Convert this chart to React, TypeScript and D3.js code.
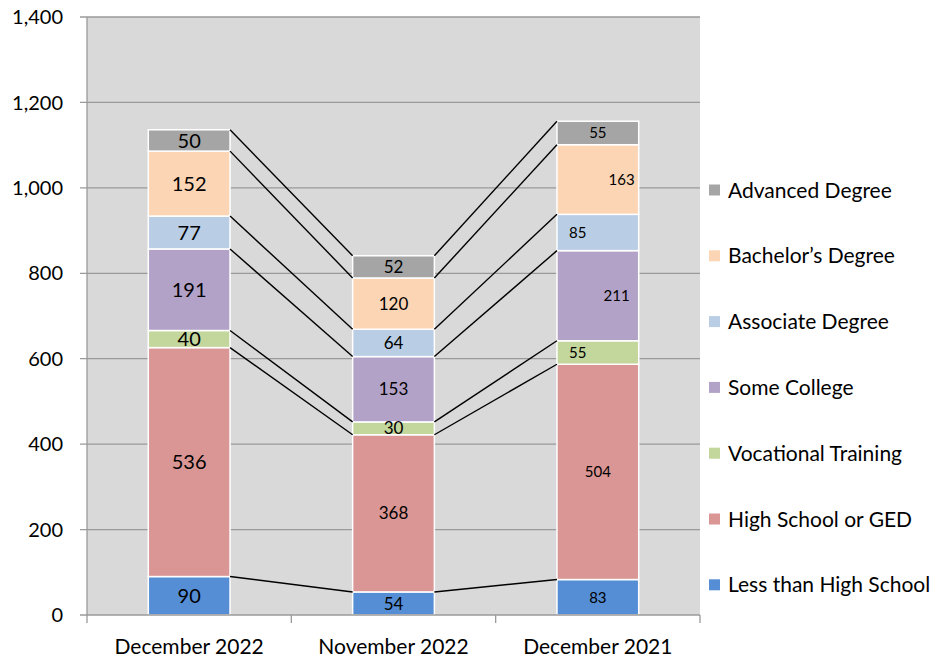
import React, { useRef, useEffect } from "react";
import * as d3 from "d3";

// categories along the x axis
const periods = ["December 2022", "November 2022", "December 2021"];

// series, bottom of the stack first
const levels = [
  "Less than High School",
  "High School or GED",
  "Vocational Training",
  "Some College",
  "Associate Degree",
  "Bachelor\u2019s Degree",
  "Advanced Degree",
];

const lessThanHS = [90, 54, 83];
const highSchool = [536, 368, 504];
const vocational = [40, 30, 55];
const someCollege = [191, 153, 211];
const associate = [77, 64, 85];
const bachelors = [152, 120, 163];
const advanced = [50, 52, 55];

const yTicks = [0, 200, 400, 600, 800, 1000, 1200, 1400];

const colors = [
  "#558ed5",
  "#d99694",
  "#c3d69b",
  "#b3a2c7",
  "#b9cde5",
  "#fcd5b5",
  "#a5a5a5",
];

// label look per period (the last bar in the original has scattered labels)
const labelSize = [20, 17, 15];
const labelAnchor: string[][] = [
  ["middle", "middle", "middle", "middle", "middle", "middle", "middle"],
  ["middle", "middle", "middle", "middle", "middle", "middle", "middle"],
  ["middle", "middle", "start", "end", "start", "end", "middle"],
];

const FONT = "Lato, 'Open Sans', sans-serif";

const App: React.FC = () => {
  const ref = useRef<SVGSVGElement | null>(null);

  useEffect(() => {
    const svg = d3.select(ref.current);
    svg.selectAll("*").remove();

    const width = 936;
    const height = 659;
    const plot = { left: 87, right: 700, top: 17, bottom: 615 };

    const series = [
      lessThanHS,
      highSchool,
      vocational,
      someCollege,
      associate,
      bachelors,
      advanced,
    ];

    const rows = periods.map((p, i) => {
      const r: Record<string, number | string> = { period: p };
      levels.forEach((l, k) => (r[l] = series[k][i]));
      return r;
    });

    const stacked = d3.stack<any>().keys(levels)(rows as any);

    const x = d3
      .scaleBand<string>()
      .domain(periods)
      .range([plot.left, plot.right])
      .paddingInner(0.6)
      .paddingOuter(0.3);

    const y = d3
      .scaleLinear()
      .domain([0, 1400])
      .range([plot.bottom, plot.top]);

    svg.attr("width", width).attr("height", height);

    // plot background
    svg
      .append("rect")
      .attr("x", plot.left)
      .attr("y", plot.top)
      .attr("width", plot.right - plot.left)
      .attr("height", plot.bottom - plot.top)
      .attr("fill", "#d9d9d9");

    // gridlines + left ticks
    svg
      .append("g")
      .selectAll("line")
      .data(yTicks.filter((t) => t > 0))
      .join("line")
      .attr("x1", plot.left - 7)
      .attr("x2", plot.right)
      .attr("y1", (d) => y(d))
      .attr("y2", (d) => y(d))
      .attr("stroke", "#9a9a9a")
      .attr("stroke-width", 1.3);

    // y axis line
    svg
      .append("line")
      .attr("x1", plot.left)
      .attr("x2", plot.left)
      .attr("y1", plot.top)
      .attr("y2", plot.bottom)
      .attr("stroke", "#9a9a9a")
      .attr("stroke-width", 1.3);

    // y tick labels
    svg
      .append("g")
      .selectAll("text")
      .data(yTicks)
      .join("text")
      .attr("x", 63)
      .attr("y", (d) => y(d))
      .attr("dy", "0.36em")
      .attr("text-anchor", "end")
      .style("font-family", FONT)
      .style("font-size", "20px")
      .attr("fill", "#000")
      .text((d) => d3.format(",")(d));

    // bars
    const barG = svg.append("g");
    stacked.forEach((s, k) => {
      barG
        .append("g")
        .selectAll("rect")
        .data(s)
        .join("rect")
        .attr("x", (d: any) => x(d.data.period)!)
        .attr("width", x.bandwidth())
        .attr("y", (d) => y(d[1]))
        .attr("height", (d) => y(d[0]) - y(d[1]))
        .attr("fill", colors[k])
        .attr("stroke", "#fff")
        .attr("stroke-width", 1.5);
    });

    // series lines between neighbouring bars
    const lineG = svg.append("g");
    stacked.forEach((s) => {
      for (let i = 0; i < periods.length - 1; i++) {
        lineG
          .append("line")
          .attr("x1", x(periods[i])! + x.bandwidth())
          .attr("x2", x(periods[i + 1])!)
          .attr("y1", y(s[i][1]))
          .attr("y2", y(s[i + 1][1]))
          .attr("stroke", "#000")
          .attr("stroke-width", 1.4);
      }
    });

    // value labels
    const labG = svg.append("g");
    stacked.forEach((s, k) => {
      s.forEach((d: any, i) => {
        const anchor = labelAnchor[i][k];
        const x0 = x(periods[i])!;
        const lx =
          anchor === "start"
            ? x0 + 12
            : anchor === "end"
            ? x0 + x.bandwidth() - (k === 3 ? 9 : 4)
            : x0 + x.bandwidth() / 2;
        labG
          .append("text")
          .attr("x", lx)
          .attr("y", (y(d[0]) + y(d[1])) / 2)
          .attr("dy", "0.36em")
          .attr("text-anchor", anchor)
          .style("font-family", FONT)
          .style("font-size", `${labelSize[i]}px`)
          .attr("fill", "#000")
          .text(d[1] - d[0]);
      });
    });

    // x axis
    svg
      .append("line")
      .attr("x1", plot.left - 7)
      .attr("x2", plot.right)
      .attr("y1", plot.bottom)
      .attr("y2", plot.bottom)
      .attr("stroke", "#9a9a9a")
      .attr("stroke-width", 1.3);

    const step = x.step();
    svg
      .append("g")
      .selectAll("line")
      .data(d3.range(periods.length + 1))
      .join("line")
      .attr("x1", (i) => plot.left + i * step)
      .attr("x2", (i) => plot.left + i * step)
      .attr("y1", plot.bottom)
      .attr("y2", plot.bottom + 8)
      .attr("stroke", "#9a9a9a")
      .attr("stroke-width", 1.3);

    svg
      .append("g")
      .selectAll("text")
      .data(periods)
      .join("text")
      .attr("x", (d) => x(d)! + x.bandwidth() / 2)
      .attr("y", 654)
      .attr("text-anchor", "middle")
      .style("font-family", FONT)
      .style("font-size", "21px")
      .attr("fill", "#000")
      .text((d) => d);

    // legend, top item is the top of the stack
    const legendItems = levels.map((l, k) => ({ l, c: colors[k] })).reverse();
    const legend = svg
      .append("g")
      .selectAll("g")
      .data(legendItems)
      .join("g")
      .attr("transform", (_, i) => `translate(709, ${190 + i * 65.8})`);

    legend
      .append("rect")
      .attr("x", 0)
      .attr("y", -5.5)
      .attr("width", 11)
      .attr("height", 11)
      .attr("fill", (d) => d.c);

    legend
      .append("text")
      .attr("x", 19)
      .attr("y", 0)
      .attr("dy", "0.36em")
      .style("font-family", FONT)
      .style("font-size", "21px")
      .attr("fill", "#000")
      .text((d) => d.l);
  }, []);

  return (
    <svg
      ref={ref}
      style={{ position: "absolute", left: 0, top: 0, display: "block" }}
    />
  );
};

export default App;
